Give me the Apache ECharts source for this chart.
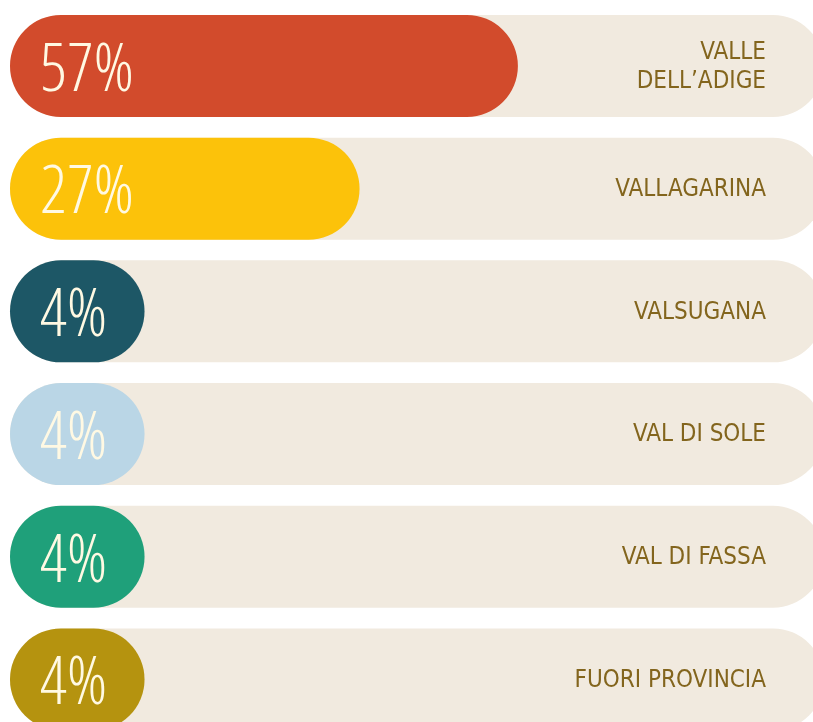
<!DOCTYPE html>
<html>
<head>
<meta charset="utf-8">
<script src="https://cdn.jsdelivr.net/npm/echarts@6/dist/echarts.min.js"></script>
<style>
html,body{margin:0;padding:0;background:#ffffff;}
#chart{width:813px;height:722px;}
</style>
</head>
<body>
<div id="chart"></div>
<script>
// Data
const categories = ["VALLE\nDELL\u2019ADIGE", "VALLAGARINA", "VALSUGANA", "VAL DI SOLE", "VAL DI FASSA", "FUORI PROVINCIA"];
const values = [57, 27, 4, 4, 4, 4];
const trackMax = 146.41; // full track length in % units (runs past the right edge)

// Styles
const palette = ["#D24B2C", "#FCC20A", "#1D5766", "#BAD6E6", "#1FA07A", "#B5930F"];
const trackColor = "#F1EADF";
const pctColor = "#FFF9E3";
const nameColor = "#83651D";
const pctFont = "'Open Sans', 'DejaVu Sans', sans-serif";
const nameFont = "'DejaVu Sans Condensed', 'Open Sans', sans-serif";

// bar length encodes sqrt of the percentage (as in the original graphic)
const enc = v => Math.sqrt(v);

const chart = echarts.init(document.getElementById('chart'), null, {renderer: 'canvas'});
chart.setOption({
  animation: false,
  backgroundColor: '#ffffff',
  grid: {left: 10, right: -11, top: 4.6, height: 736.2, containLabel: false, outerBoundsMode: 'none'},
  xAxis: {type: 'value', min: 0, max: enc(trackMax), show: false},
  yAxis: {type: 'category', data: categories, inverse: true, show: false},
  series: [
    {
      type: 'bar',
      barWidth: 102,
      barGap: '-100%',
      silent: true,
      data: categories.map(() => enc(trackMax)),
      itemStyle: {color: trackColor, borderRadius: 51},
      label: {
        show: true,
        position: 'insideRight',
        distance: 58,
        offset: [0, 1],
        formatter: p => p.name,
        color: nameColor,
        fontFamily: nameFont,
        fontSize: 24,
        lineHeight: 29,
        align: 'right'
      },
      z: 1
    },
    {
      type: 'bar',
      barWidth: 102,
      barGap: '-100%',
      data: values.map((v, i) => ({value: enc(v), itemStyle: {color: palette[i]}})),
      itemStyle: {borderRadius: 51},
      label: {
        show: true,
        position: 'insideLeft',
        distance: 30,
        offset: [0, 6],
        formatter: p => values[p.dataIndex] + '%',
        color: pctColor,
        fontFamily: pctFont,
        fontStyle: 'condensed',
        fontWeight: 300,
        fontSize: 66
      },
      z: 2
    }
  ]
});
</script>
</body>
</html>
